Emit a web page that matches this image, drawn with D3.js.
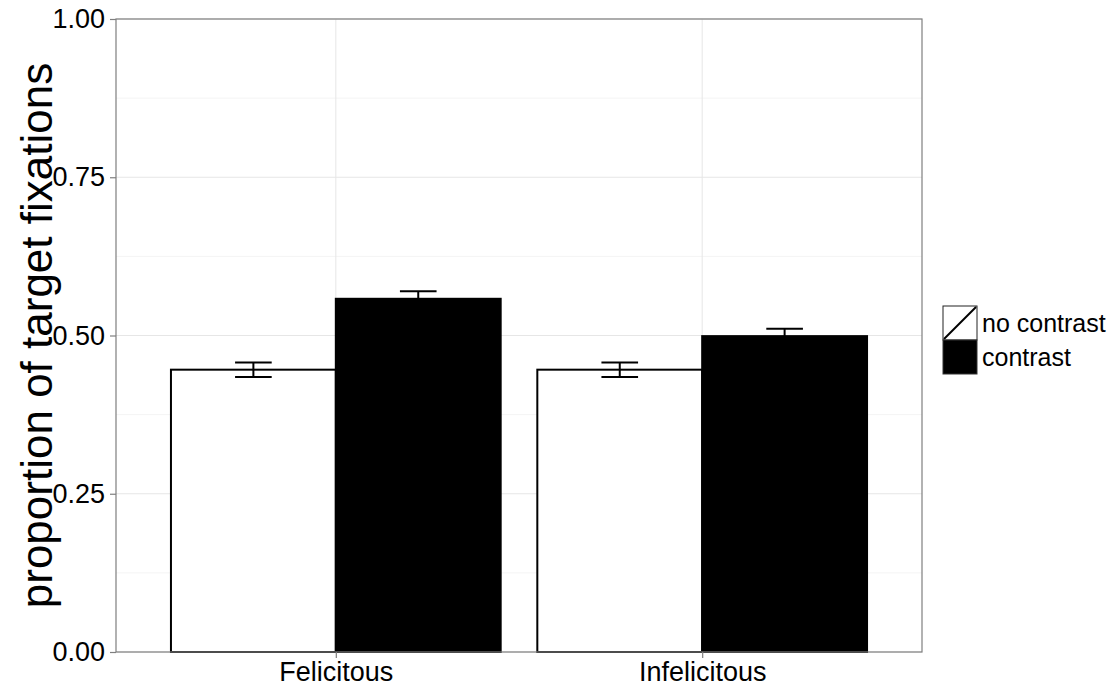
<!DOCTYPE html>
<html>
<head>
<meta charset="utf-8">
<script src="https://cdn.jsdelivr.net/npm/d3@7/dist/d3.min.js"></script>
<style>
html,body{margin:0;padding:0;background:#fff;}
svg{display:block;font-family:"Liberation Sans",Arial,Helvetica,sans-serif;}
</style>
</head>
<body>
<svg id="chart" width="1114" height="688"></svg>
<script>
const categories = ["Felicitous", "Infelicitous"];
const groups = ["no contrast", "contrast"];
const noContrast = [0.446, 0.446];
const contrast = [0.558, 0.499];
const seNoContrast = [0.0115, 0.0115];
const seContrast = [0.012, 0.0115];
const yTicks = [0, 0.25, 0.5, 0.75, 1.0];
const yMinor = [0.125, 0.375, 0.625, 0.875];

const data = [];
categories.forEach((c, i) => {
  data.push({cat: c, ci: i, g: 0, v: noContrast[i], se: seNoContrast[i]});
  data.push({cat: c, ci: i, g: 1, v: contrast[i], se: seContrast[i]});
});

const svg = d3.select("#chart");
const L = 116, R = 922, T = 19, B = 652;

const x = d3.scaleLinear().domain([0.4, 2.6]).range([L, R]);
const y = d3.scaleLinear().domain([0, 1]).range([B, T]);

// grid
const g = svg.append("g");
g.selectAll(".minor").data(yMinor).enter().append("line")
  .attr("x1", L).attr("x2", R).attr("y1", d => y(d)).attr("y2", d => y(d))
  .attr("stroke", "#f4f4f4").attr("stroke-width", 1);
g.selectAll(".major").data(yTicks).enter().append("line")
  .attr("x1", L).attr("x2", R).attr("y1", d => y(d)).attr("y2", d => y(d))
  .attr("stroke", "#e6e6e6").attr("stroke-width", 1);
g.selectAll(".vmajor").data(categories).enter().append("line")
  .attr("x1", (d, i) => x(i + 1)).attr("x2", (d, i) => x(i + 1))
  .attr("y1", T).attr("y2", B)
  .attr("stroke", "#e6e6e6").attr("stroke-width", 1);

// bars
const bw = 0.45;
svg.append("g").selectAll("rect").data(data).enter().append("rect")
  .attr("x", d => x(d.ci + 1 - 0.45 + d.g * bw))
  .attr("width", d => x(bw) - x(0))
  .attr("y", d => y(d.v))
  .attr("height", d => y(0) - y(d.v))
  .attr("fill", d => d.g === 0 ? "#fff" : "#000")
  .attr("stroke", "#000").attr("stroke-width", 2);

// error bars
const eb = svg.append("g").attr("stroke", "#000").attr("stroke-width", 2).attr("fill", "none");
data.forEach(d => {
  const cx = x(d.ci + 1 - 0.45 + d.g * bw + bw / 2);
  const hw = (x(0.1) - x(0)) / 2;
  eb.append("line").attr("x1", cx).attr("x2", cx).attr("y1", y(d.v - d.se)).attr("y2", y(d.v + d.se));
  eb.append("line").attr("x1", cx - hw).attr("x2", cx + hw).attr("y1", y(d.v + d.se)).attr("y2", y(d.v + d.se));
  eb.append("line").attr("x1", cx - hw).attr("x2", cx + hw).attr("y1", y(d.v - d.se)).attr("y2", y(d.v - d.se));
});

// panel border
svg.append("rect").attr("x", L).attr("y", T).attr("width", R - L).attr("height", B - T)
  .attr("fill", "none").attr("stroke", "#7f7f7f").attr("stroke-width", 1.2);

// axes
const yAxis = d3.axisLeft(y).tickValues(yTicks).tickFormat(d3.format(".2f")).tickSize(6).tickPadding(5);
const ya = svg.append("g").attr("transform", `translate(${L},0)`).call(yAxis);
ya.select(".domain").remove();
ya.selectAll(".tick line").attr("stroke", "#7f7f7f").attr("stroke-width", 1.2);
ya.selectAll(".tick text").attr("font-size", "27px").attr("fill", "#000")
  .attr("font-family", "'Liberation Sans', Arial, sans-serif");

const xAxis = d3.axisBottom(x).tickValues([1, 2]).tickFormat((d) => categories[d - 1]).tickSize(6).tickPadding(4);
const xa = svg.append("g").attr("transform", `translate(0,${B})`).call(xAxis);
xa.select(".domain").remove();
xa.selectAll(".tick line").attr("stroke", "#7f7f7f").attr("stroke-width", 1.2);
xa.selectAll(".tick text").attr("font-size", "27px").attr("fill", "#000")
  .attr("font-family", "'Liberation Sans', Arial, sans-serif");

// y title
svg.append("text")
  .attr("transform", `translate(52,${(T + B) / 2}) rotate(-90)`)
  .attr("text-anchor", "middle")
  .attr("font-size", "44px").attr("fill", "#000")
  .text("proportion of target fixations");

// legend
const lg = svg.append("g").attr("transform", "translate(943,306)");
const ks = 34;
groups.forEach((name, i) => {
  const k = lg.append("g").attr("transform", `translate(0,${i * ks})`);
  k.append("rect").attr("width", ks).attr("height", ks)
    .attr("fill", i === 0 ? "#fff" : "#000")
    .attr("stroke", i === 0 ? "#222" : "#333").attr("stroke-width", 1);
  if (i === 0) {
    k.append("line").attr("x1", 1).attr("y1", ks - 1).attr("x2", ks - 1).attr("y2", 1)
      .attr("stroke", "#000").attr("stroke-width", 2);
  }
  k.append("text").attr("x", ks + 5).attr("y", ks / 2).attr("dy", "0.35em")
    .attr("font-size", "25px").attr("fill", "#000").text(name);
});
</script>
</body>
</html>
